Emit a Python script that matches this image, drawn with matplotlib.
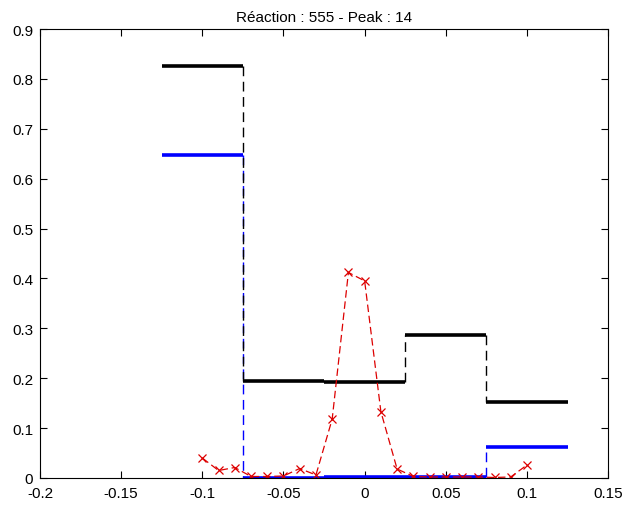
import matplotlib
matplotlib.use("Agg")
import matplotlib.pyplot as plt
import numpy as np

plt.rcParams['font.family'] = ['Liberation Sans', 'DejaVu Sans']

# Bin edges for step series
bin_edges = [-0.125, -0.075, -0.025, 0.025, 0.075, 0.125]
black_vals = [0.826, 0.194, 0.192, 0.287, 0.152]
blue_vals = [0.647, 0.0, 0.002, 0.002, 0.062]

# Red dashed series
red_x = [-0.10, -0.09, -0.08, -0.07, -0.06, -0.05, -0.04, -0.03, -0.02, -0.01,
         0.00, 0.01, 0.02, 0.03, 0.04, 0.05, 0.06, 0.07, 0.08, 0.09, 0.10]
red_y = [0.040, 0.015, 0.021, 0.003, 0.003, 0.004, 0.019, 0.006, 0.118, 0.412,
         0.395, 0.133, 0.018, 0.003, 0.002, 0.002, 0.002, 0.002, 0.001, 0.002, 0.026]

title = "Réaction : 555 - Peak : 14"
xticks = [-0.2, -0.15, -0.1, -0.05, 0, 0.05, 0.1, 0.15]
yticks = [0, 0.1, 0.2, 0.3, 0.4, 0.5, 0.6, 0.7, 0.8, 0.9]

fig = plt.figure(figsize=(6.25, 5.06), dpi=100)
ax = fig.add_axes([0.064, 0.0534, 0.909, 0.8873])


def draw_steps(vals, color, zo):
    # vertical dashed connectors
    for i in range(1, len(vals)):
        ax.plot([bin_edges[i], bin_edges[i]], [vals[i - 1], vals[i]],
                color=color, lw=1.0, ls=(0, (7, 4)), zorder=zo)
    # thick horizontals
    for i, v in enumerate(vals):
        ax.plot([bin_edges[i], bin_edges[i + 1]], [v, v], color=color,
                lw=2.6, solid_capstyle='butt', zorder=zo + 0.5)


draw_steps(blue_vals, '#0000ff', 2)
draw_steps(black_vals, 'black', 3)

ax.plot(red_x, red_y, color='#dd0000', lw=0.9, ls=(0, (6, 3)), marker='x',
        markersize=6, markeredgewidth=0.9, zorder=4)

ax.set_xlim(-0.2, 0.15)
ax.set_ylim(0, 0.9)
ax.set_xticks(xticks)
ax.set_xticklabels(['-0.2', '-0.15', '-0.1', '-0.05', '0', '0.05', '0.1', '0.15'])
ax.set_yticks(yticks)
ax.set_yticklabels(['0', '0.1', '0.2', '0.3', '0.4', '0.5', '0.6', '0.7', '0.8', '0.9'])
ax.tick_params(direction='in', length=5, width=0.8, top=True, right=True,
               labelsize=11)
ax.tick_params(axis='x', pad=6)
ax.tick_params(axis='y', pad=5)
for s in ax.spines.values():
    s.set_linewidth(0.8)
    s.set_zorder(10)
ax.set_title(title, fontsize=11, pad=6)

fig.savefig('out.png', dpi=100, facecolor='white')
